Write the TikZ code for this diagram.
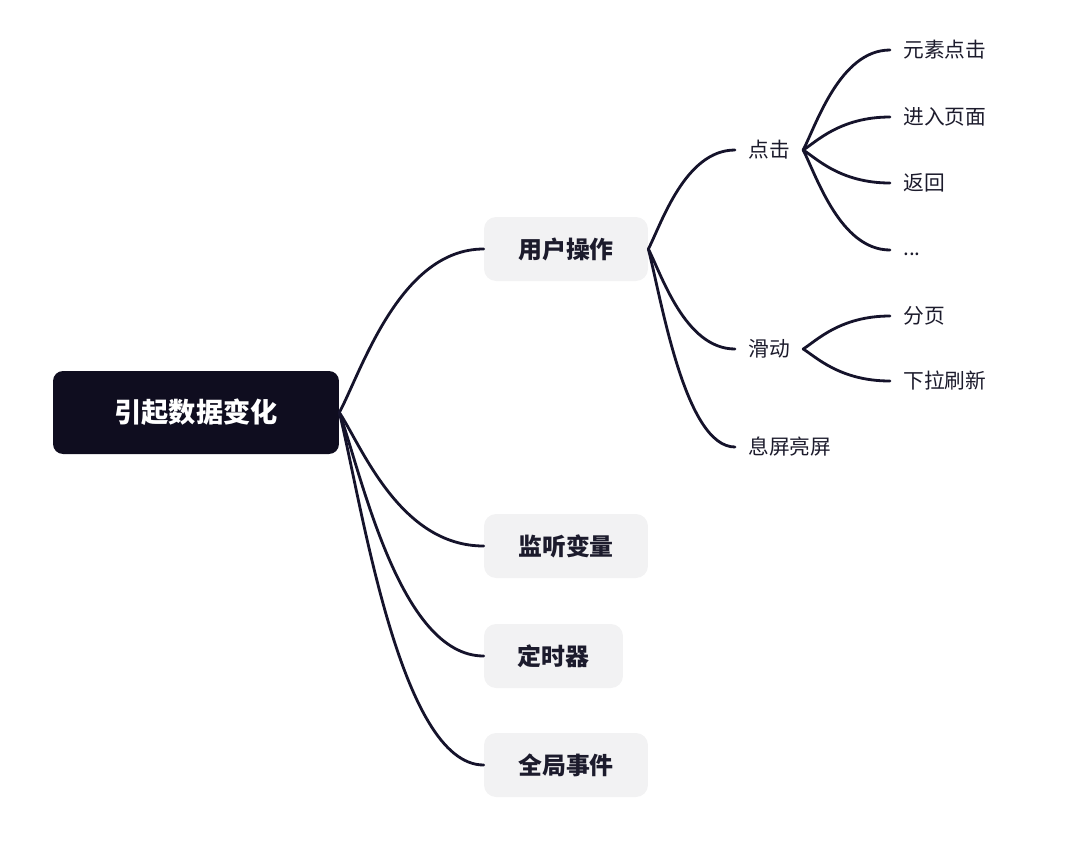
\documentclass[tikz,border=0pt]{standalone}
\usepackage{fontspec}
\setmainfont{Noto Sans CJK SC}
\definecolor{rootnavy}{HTML}{0F0D1F}
\definecolor{boxgrey}{HTML}{F2F2F3}
\definecolor{inkline}{HTML}{15132B}
\definecolor{inktext}{HTML}{1C1B2C}
\begin{document}
\begin{tikzpicture}[x=0.02cm, y=-0.02cm]

\tikzset{rootbox/.style={fill=rootnavy, rounded corners=0.2cm, minimum width=5.72cm, minimum height=1.66cm, text=white, font=\fontsize{15.5}{18}\selectfont\bfseries}}
\tikzset{topicbox/.style={fill=boxgrey, rounded corners=0.24cm, minimum height=1.28cm, text=inktext, font=\fontsize{13.6}{16}\selectfont\bfseries}}
\tikzset{leaf/.style={anchor=west, inner xsep=0.26cm, inner ysep=0pt, text=inktext, font=\fontsize{11.8}{14}\selectfont}}
\tikzset{branch/.style={draw=inkline, line width=1.6pt, line cap=round}}

\useasboundingbox (0,0) rectangle (1080,867);

% root and main topics
\node[rootbox] (root) at (196,412.5) {引起数据变化};
\node[topicbox, minimum width=3.28cm] (ops) at (566,249) {用户操作};
\node[topicbox, minimum width=3.28cm] (watch) at (566,546) {监听变量};
\node[topicbox, minimum width=2.78cm] (timer) at (553.5,656) {定时器};
\node[topicbox, minimum width=3.28cm] (events) at (566,765) {全局事件};

% second level
\node[leaf] (click) at (735,150) {点击};
\node[leaf] (slide) at (735,349) {滑动};
\node[leaf] (screen) at (735,447) {息屏亮屏};

% third level
\node[leaf] (elem) at (890,50) {元素点击};
\node[leaf] (enter) at (890,117) {进入页面};
\node[leaf] (back) at (890,183) {返回};
\node[leaf, text height=0.2cm, text depth=0cm] (more) at (890,250) {...};
\node[leaf] (page) at (890,316) {分页};
\node[leaf] (refresh) at (890,381) {下拉刷新};

% connectors
\draw[branch] (root.east) .. controls +(22,-41) and +(-84,0) .. (ops.west);
\draw[branch] (root.east) .. controls +(22,33) and +(-84,0) .. (watch.west);
\draw[branch] (root.east) .. controls +(22,61) and +(-84,0) .. (timer.west);
\draw[branch] (root.east) .. controls +(22,88) and +(-84,0) .. (events.west);

\draw[branch] (ops.east) .. controls +(13,-25) and +(-50,0) .. (click.west);
\draw[branch] (ops.east) .. controls +(13,25) and +(-50,0) .. (slide.west);
\draw[branch] (ops.east) .. controls +(13,50) and +(-50,0) .. (screen.west);

\draw[branch] (click.east) .. controls +(13,-25) and +(-50,0) .. (elem.west);
\draw[branch] (click.east) .. controls +(13,-8) and +(-50,0) .. (enter.west);
\draw[branch] (click.east) .. controls +(13,8) and +(-50,0) .. (back.west);
\draw[branch] (click.east) .. controls +(13,25) and +(-50,0) .. (more.west);

\draw[branch] (slide.east) .. controls +(13,-8) and +(-50,0) .. (page.west);
\draw[branch] (slide.east) .. controls +(13,8) and +(-50,0) .. (refresh.west);

\end{tikzpicture}
\end{document}
